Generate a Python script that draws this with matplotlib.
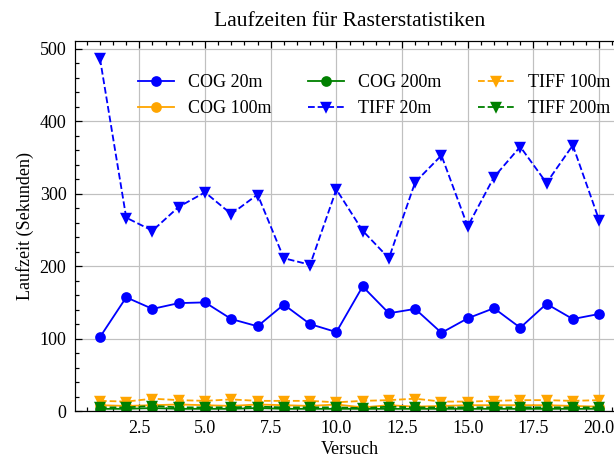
import matplotlib
matplotlib.use("Agg")
import matplotlib.pyplot as plt
from matplotlib.ticker import AutoMinorLocator

versuch = list(range(1, 21))
cog_20m = [102, 157, 141, 149, 150, 127, 117, 147, 120, 109, 172, 135, 141, 108, 128, 142, 115, 148, 127, 134]
cog_100m = [8, 7, 8, 9, 8, 7, 9, 8, 7, 9, 5, 8, 6, 7, 8, 8, 8, 8, 7, 6]
cog_200m = [3, 3, 4, 3, 3, 3, 4, 3, 3, 3, 3, 3, 3, 3, 3, 3, 3, 3, 3, 3]
tiff_20m = [487, 267, 249, 282, 302, 272, 299, 211, 202, 306, 249, 211, 316, 353, 255, 323, 365, 315, 367, 264]
tiff_100m = [14, 13, 17, 15, 14, 16, 14, 14, 14, 12, 14, 15, 17, 13, 13, 14, 15, 15, 14, 15]
tiff_200m = [5, 5, 7, 5, 5, 5, 6, 5, 5, 5, 4, 6, 5, 5, 5, 5, 5, 5, 5, 5]

plt.rcParams.update({
    "font.family": ["Liberation Serif", "DejaVu Serif"],
    "font.size": 7.4,
    "axes.linewidth": 0.5,
    "xtick.direction": "in", "ytick.direction": "in",
    "xtick.top": True, "ytick.right": True,
    "xtick.major.size": 3, "ytick.major.size": 3,
    "xtick.minor.size": 1.5, "ytick.minor.size": 1.5,
    "xtick.major.width": 0.5, "ytick.major.width": 0.5,
    "xtick.minor.width": 0.5, "ytick.minor.width": 0.5,
    "xtick.minor.visible": True, "ytick.minor.visible": True,
    "lines.linewidth": 0.75,
    "lines.markersize": 3.4,
})

dpi = 175
W, H = 614, 459
fig = plt.figure(figsize=(W / dpi, H / dpi), dpi=dpi)
ax = fig.add_axes([75 / W, 1 - 411 / H, (624 - 75) / W, (411 - 41) / H])

ax.plot(versuch, cog_20m, "-o", color="blue", label="COG 20m")
ax.plot(versuch, cog_100m, "-o", color="orange", label="COG 100m")
ax.plot(versuch, cog_200m, "-o", color="green", label="COG 200m")
ax.plot(versuch, tiff_20m, "--v", color="blue", label="TIFF 20m")
ax.plot(versuch, tiff_100m, "--v", color="orange", label="TIFF 100m")
ax.plot(versuch, tiff_200m, "--v", color="green", label="TIFF 200m")

ax.set_ylim(0, 511)
ax.xaxis.set_minor_locator(AutoMinorLocator())
ax.yaxis.set_minor_locator(AutoMinorLocator())
ax.grid(True, color="#c0c0c0", linewidth=0.5)
ax.set_axisbelow(True)

ax.set_title("Laufzeiten für Rasterstatistiken")
ax.set_xlabel("Versuch", labelpad=2.0)
ax.set_ylabel("Laufzeit (Sekunden)", labelpad=2.5)
ax.legend(ncol=3, frameon=False, loc="upper center", bbox_to_anchor=(0.545, 0.955))

fig.savefig("out.png", dpi=dpi)
